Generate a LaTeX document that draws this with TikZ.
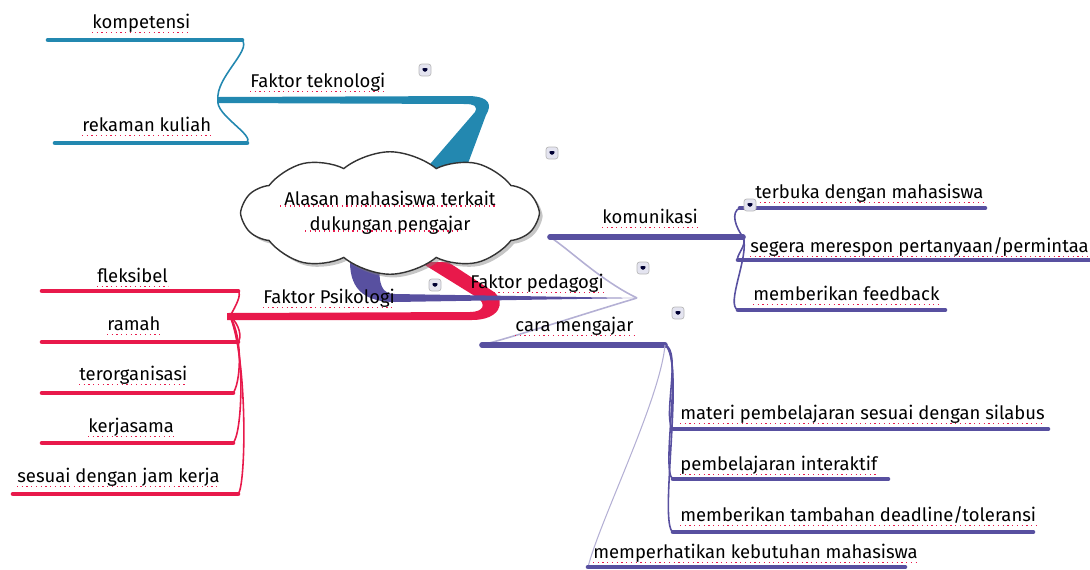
\documentclass[tikz,border=0pt]{standalone}
\usepackage{fontspec}
\setmainfont{Fira Sans}
\usetikzlibrary{shapes.symbols, shadows, calc}
\definecolor{cteal}{HTML}{2388B0}
\definecolor{cred}{HTML}{E8194B}
\definecolor{cpurple}{HTML}{5850A0}
\definecolor{cicon}{HTML}{E4E4F0}
\tikzset{
  every picture/.style={x=0.02cm, y=-0.02cm},
  txt/.style={anchor=base west, inner sep=0pt, font=\fontsize{10.5}{12}\selectfont},
  bough/.style={draw=#1, line width=3.2pt, line cap=round},
  leafline/.style={draw=#1, line width=2.6pt, line cap=round},
  twig/.style={draw=#1, line width=0.9pt},
  spell/.style={draw=cred, dotted, line width=0.7pt},
  dropbtn/.style={draw=gray!55, fill=cicon, rounded corners=1.5pt, minimum size=0.24cm, inner sep=0pt,
    path picture={\fill[black!80!blue] ($(path picture bounding box.center)+(-2.2pt,1.1pt)$) -- ++(4.4pt,0pt) -- ++(-2.2pt,-2.8pt) -- cycle;}},
  root/.style={cloud, cloud puffs=10, cloud puff arc=80, cloud ignores aspect, draw=black!80,
    line width=0.8pt, fill=white, inner sep=0pt, minimum width=5.9cm, minimum height=2.45cm,
    align=center, font=\fontsize{10.5}{14}\selectfont,
    drop shadow={opacity=0.45, shadow xshift=1.8pt, shadow yshift=-1.8pt}},
}

\begin{document}
\begin{tikzpicture}
  \useasboundingbox (0,0) rectangle (1090,569);
  % ends of each line: name/end at the fork/free end/height
  \foreach \n/\xa/\xb/\y in {komp/242/48/40, rek/247/55/143, fleks/238/42/291, ramah/238/42/342,
      org/233/42/393, kerja/233/42/443, jam/238/13/494, kom/550/743/237, cara/482/665/345,
      terbuka/740/985/208, segera/738/1095/260, feedback/738/945/310,
      materi/673/1048/429, inter/673/888/479, deadline/673/1033/532, butuh/588/905/567}
    {\coordinate (\n-a) at (\xa,\y); \coordinate (\n-b) at (\xb,\y);}
  \coordinate (tJ) at (218,100);
  \coordinate (rJ) at (230,316);
  \coordinate (pJ) at (637,298);
  \coordinate (kJ) at (kom-b);
  \coordinate (cJ) at (cara-b);

  % main branches out of the cloud
  \fill[cteal] (218,97) -- (470,96) .. controls (490,97) and (492,105) .. (486,115) -- (460,185)
    -- (412,185) -- (475,112) .. controls (478,106) and (474,104) .. (465,104) -- (218,103) -- cycle;
  \fill[cred] (227,313) -- (470,312) .. controls (484,312) and (486,304) .. (478,298) -- (420,262)
    -- (448,262) -- (494,292) .. controls (506,302) and (500,320) .. (472,320) -- (227,320) -- cycle;
  \fill[cpurple] (350,262) .. controls (350,292) and (368,302) .. (395,302) -- (pJ)
    -- (395,294) .. controls (382,294) and (378,285) .. (380,262) -- cycle;

  % Faktor teknologi
  \draw[twig=cteal] (tJ) .. controls (215,78) and (252,50) .. (komp-a);
  \draw[twig=cteal] (tJ) .. controls (215,115) and (255,135) .. (rek-a);
  \foreach \n in {komp, rek} \draw[leafline=cteal] (\n-a) -- (\n-b);

  % Faktor Psikologi
  \draw[twig=cred] (rJ) .. controls (236,306) and (242,294) .. (fleks-a);
  \draw[twig=cred] (rJ) .. controls (240,325) and (242,338) .. (ramah-a);
  \draw[twig=cred] (rJ) .. controls (244,340) and (240,385) .. (org-a);
  \draw[twig=cred] (rJ) .. controls (246,350) and (242,435) .. (kerja-a);
  \draw[twig=cred] (rJ) .. controls (248,360) and (246,488) .. (jam-a);
  \foreach \n in {fleks, ramah, org, kerja, jam} \draw[leafline=cred] (\n-a) -- (\n-b);

  % Faktor pedagogi
  \draw[twig=cpurple!45] (pJ) .. controls (600,280) and (570,250) .. (kom-a);
  \draw[twig=cpurple!45] (pJ) .. controls (580,315) and (520,335) .. (cara-a);
  \draw[bough=cpurple] (kom-a) -- (kom-b);
  \draw[bough=cpurple] (cara-a) -- (cara-b);
  \draw[twig=cpurple] (kJ) .. controls (736,228) and (730,212) .. (terbuka-a);
  \draw[twig=cpurple] (kJ) .. controls (748,245) and (735,256) .. (segera-a);
  \draw[twig=cpurple] (kJ) .. controls (750,255) and (725,305) .. (feedback-a);
  \draw[twig=cpurple] (cJ) .. controls (682,350) and (662,420) .. (materi-a);
  \draw[twig=cpurple] (cJ) .. controls (684,355) and (660,472) .. (inter-a);
  \draw[twig=cpurple] (cJ) .. controls (686,360) and (658,525) .. (deadline-a);
  \draw[twig=cpurple!45, line width=0.6pt] (cJ) .. controls (660,400) and (600,520) .. (butuh-a);
  \foreach \n in {terbuka, segera, feedback, materi, inter, deadline, butuh}
    \draw[leafline=cpurple] (\n-a) -- (\n-b);

  \node[root] (root) at (390,213) {Alasan mahasiswa terkait\\dukungan pengajar};

  \node[txt] (tek) at (250,87) {Faktor teknologi};
  \node[txt] (komp) at (92,28) {kompetensi};
  \node[txt] (rek) at (82,131) {rekaman kuliah};
  \node[txt] (psi) at (263,303) {Faktor Psikologi};
  \node[txt] (fleks) at (97,282) {fleksibel};
  \node[txt] (ramah) at (107,330) {ramah};
  \node[txt] (org) at (79,380) {terorganisasi};
  \node[txt] (kerja) at (88,432) {kerjasama};
  \node[txt] (jam) at (17,482) {sesuai dengan jam kerja};
  \node[txt] (ped) at (470,288) {Faktor pedagogi};
  \node[txt] (kom) at (602,223) {komunikasi};
  \node[txt] (terbuka) at (755,198) {terbuka dengan mahasiswa};
  \node[txt] (segera) at (750,252) {segera merespon pertanyaan/permintaan};
  \node[txt] (feedback) at (753,300) {memberikan feedback};
  \node[txt] (cara) at (515,331) {cara mengajar};
  \node[txt] (materi) at (680,419) {materi pembelajaran sesuai dengan silabus};
  \node[txt] (inter) at (680,470) {pembelajaran interaktif};
  \node[txt] (deadline) at (680,521) {memberikan tambahan deadline/toleransi};
  \node[txt] (butuh) at (593,558) {memperhatikan kebutuhan mahasiswa};

  % spell-check marks under the words
  \foreach \n in {tek, komp, rek, psi, fleks, ramah, org, kerja, jam, ped, kom,
      terbuka, segera, feedback, cara, materi, inter, deadline, butuh}
    \draw[spell] ([yshift=-2.5pt]\n.base west) -- ([yshift=-2.5pt]\n.base east);
  \draw[spell] ($(root.center)+(-2.2cm,0.14cm)$) -- ++(4.3cm,0pt);
  \draw[spell] ($(root.center)+(-1.7cm,-0.36cm)$) -- ++(3.1cm,0pt);

  \node[dropbtn] (d1) at (425,70) {};
  \node[dropbtn] (d2) at (552,153) {};
  \node[dropbtn] (d3) at (750,205) {};
  \node[dropbtn] (d4) at (643,268) {};
  \node[dropbtn] (d5) at (435,285) {};
  \node[dropbtn] (d6) at (678,313) {};
\end{tikzpicture}
\end{document}
